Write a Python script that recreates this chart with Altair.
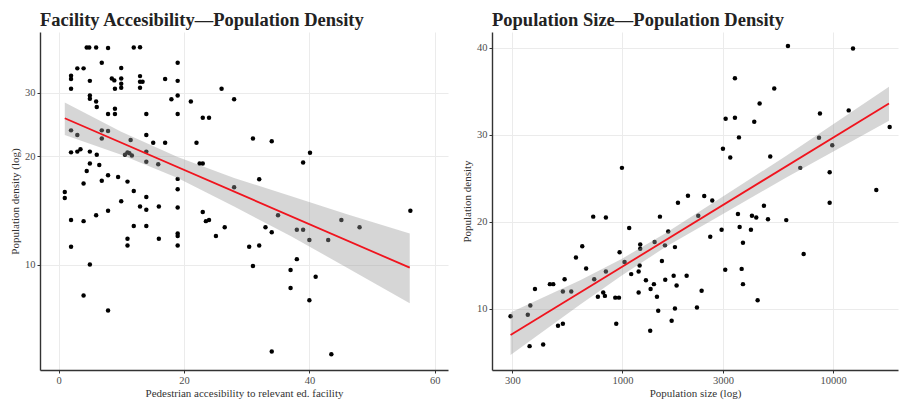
import altair as alt
import pandas as pd

FONT = "Liberation Serif"

# ---------------- Left panel: Facility accessibility vs population density ----------------
left_x = [4.5, 4.9, 6.0, 7.9, 12.0, 13.0, 6.9, 19.0, 3.0, 4.0,
          10.0, 2.0, 2.0, 5.0, 8.5, 8.9, 10.0, 13.0, 17.0, 19.0,
          10.0, 10.0, 9.0, 13.0, 13.4, 13.0, 2.0, 26.0, 5.0, 5.0,
          6.0, 6.1, 18.0, 19.0, 21.1, 28.0, 7.9, 9.0, 9.0, 14.0,
          19.0, 23.0, 24.0, 2.0, 3.0, 6.9, 7.9, 6.9, 11.5, 14.0,
          15.1, 17.0, 22.0, 2.0, 3.0, 3.5, 5.0, 6.1, 10.6, 11.0,
          11.3, 11.7, 14.0, 5.0, 6.5, 14.0, 15.9, 22.5, 23.0, 4.5,
          7.9, 9.5, 6.9, 11.0, 4.0, 19.0, 28.0, 1.0, 1.0, 12.0,
          19.0, 10.0, 14.0, 13.0, 14.0, 16.0, 19.0, 7.9, 6.0, 2.0,
          4.0, 23.0, 23.5, 24.0, 26.5, 25.1, 12.0, 14.0, 11.0, 11.0,
          16.0, 19.0, 19.0, 19.0, 2.0, 5.0, 4.0, 7.9, 30.4, 56.1,
          45.1, 48.0, 35.0, 33.0, 34.0, 38.0, 39.0, 40.0, 43.0, 32.0,
          31.0, 38.0, 37.0, 41.0, 37.0, 40.0, 34.0, 43.5, 31.0, 34.0,
          40.1, 39.0, 32.0]
left_y = [40.1, 40.1, 40.1, 40.0, 40.1, 40.2, 36.4, 36.4, 35.1, 35.1,
          35.2, 33.5, 32.8, 32.4, 32.9, 32.5, 32.9, 33.4, 32.8, 32.4,
          31.8, 31.0, 30.8, 32.2, 32.2, 31.0, 30.8, 30.8, 29.5, 28.9,
          28.4, 27.4, 28.8, 29.5, 28.4, 28.8, 26.2, 27.1, 26.2, 26.2,
          26.2, 25.6, 25.6, 23.6, 22.9, 23.6, 23.5, 22.4, 22.2, 22.9,
          21.8, 21.8, 21.8, 20.5, 20.6, 20.9, 20.6, 20.2, 20.2, 20.5,
          20.4, 20.1, 20.6, 19.1, 18.9, 19.3, 19.0, 19.1, 19.1, 18.2,
          17.7, 17.5, 17.1, 17.0, 16.8, 17.3, 16.4, 15.9, 15.3, 16.0,
          16.2, 15.0, 15.4, 14.5, 14.2, 14.5, 14.4, 14.1, 13.7, 13.3,
          13.2, 14.0, 13.2, 13.3, 12.7, 12.0, 12.8, 12.8, 11.8, 11.3,
          11.8, 12.2, 12.0, 11.3, 11.2, 10.0, 8.2, 7.45, 11.2, 14.1,
          13.3, 12.7, 13.7, 12.7, 12.3, 12.5, 12.5, 11.7, 11.7, 11.3,
          9.9, 10.35, 9.65, 9.25, 8.6, 7.96, 5.73, 5.63, 22.4, 22.0,
          20.45, 19.2, 17.25]

left_fit_x = [1.0, 56.0]
left_fit_y = [25.5, 9.8]
left_band_x = [1, 10, 19, 28, 37, 46, 56]
left_band_lo = [22.9, 20.2, 17.4, 14.5, 12.0, 9.8, 7.8]
left_band_hi = [28.2, 23.4, 19.9, 17.4, 15.5, 13.8, 12.2]

# ---------------- Right panel: Population size vs population density ----------------
right_x = [994, 2046, 1834, 6107, 12440, 3420, 5257, 4480, 11870, 3090,
           3420, 4225, 8667, 18580, 3574, 8577, 9915, 3000, 3250, 5032,
           6987, 9638, 16050, 2445, 2669, 9638, 726, 834, 1506, 1076,
           1649, 2290, 644, 601, 1421, 1214, 1214, 1591, 1775, 969,
           1023, 1539, 672, 834, 1206, 1193, 1100, 734, 531, 384,
           452, 469, 521, 571, 810, 825, 764, 924, 962, 1292,
           1410, 1360, 1596, 1750, 1807, 2017, 1193, 1458, 1478, 1775,
           2258, 1712, 1354, 934, 365, 355, 294, 494, 521, 362,
           420, 4697, 3535, 4120, 4318, 4909, 5995, 2957, 3601, 4074,
           2611, 3734, 7252, 3076, 3681, 3734, 2376, 4384]
right_y = [26.2, 23.0, 22.2, 40.2, 39.9, 36.5, 35.3, 33.6, 32.8, 31.85,
           31.96, 31.5, 32.45, 30.9, 29.7, 29.66, 28.8, 28.4, 27.4, 27.5,
           26.2, 25.7, 23.65, 22.96, 22.46, 22.2, 20.6, 20.5, 20.6, 19.3,
           18.9, 20.7, 17.2, 15.9, 17.7, 17.4, 16.9, 17.3, 17.1, 16.5,
           15.4, 15.5, 14.65, 14.3, 15.0, 14.3, 14.0, 13.4, 13.4, 12.3,
           12.85, 12.85, 12.0, 12.0, 11.9, 11.5, 11.4, 11.3, 11.3, 13.3,
           12.85, 12.3, 13.35, 13.8, 12.7, 13.8, 11.9, 11.4, 9.8, 10.06,
           10.16, 8.65, 7.5, 8.3, 10.4, 9.34, 9.17, 8.07, 8.3, 5.73,
           5.92, 21.85, 20.9, 20.7, 20.5, 20.3, 20.2, 19.1, 19.4, 19.1,
           18.3, 17.6, 16.3, 14.5, 14.6, 12.85, 12.1, 11.0]

right_fit_x = [294, 18440]
right_fit_y = [7.0, 33.6]
right_band_x = [294, 630, 1000, 1600, 3000, 6000, 18440]
right_band_lo = [4.7, 10.5, 13.9, 17.1, 20.9, 25.1, 31.6]
right_band_hi = [9.6, 13.3, 15.8, 18.7, 22.9, 27.6, 35.5]

left_ticks_x = [0, 20, 40, 60]
left_ticks_y = [10, 20, 30]
right_ticks_x = [300, 1000, 3000, 10000]
right_ticks_y = [10, 20, 30, 40]

titles = {
    "left": "Facility Accesibility\u2014Population Density",
    "right": "Population Size\u2014Population Density",
}

# ---------------- build ----------------
df_lp = pd.DataFrame({"x": left_x, "y": left_y})
df_lf = pd.DataFrame({"x": left_fit_x, "y": left_fit_y})
df_lb = pd.DataFrame({"x": left_band_x, "lo": left_band_lo, "hi": left_band_hi})
df_rp = pd.DataFrame({"x": right_x, "y": right_y})
df_rf = pd.DataFrame({"x": right_fit_x, "y": right_fit_y})
df_rb = pd.DataFrame({"x": right_band_x, "lo": right_band_lo, "hi": right_band_hi})

POINT = dict(size=20, color="black", opacity=1, clip=True)
BAND = dict(color="#999999", opacity=0.4, clip=True)
LINE = dict(color="#f0141e", strokeWidth=1.8, clip=True)


def panel(dp, df, db, xscale, yscale, xaxis, yaxis, title):
    X = lambda: alt.X("x:Q", scale=xscale, axis=xaxis)
    pts = alt.Chart(dp).mark_circle(**POINT).encode(
        x=X(), y=alt.Y("y:Q", scale=yscale, axis=yaxis))
    band = alt.Chart(db).mark_area(**BAND).encode(
        x=X(), y=alt.Y("lo:Q", scale=yscale, axis=yaxis), y2="hi:Q")
    line = alt.Chart(df).mark_line(**LINE).encode(
        x=X(), y=alt.Y("y:Q", scale=yscale, axis=yaxis))
    return alt.layer(pts, band, line).properties(
        width=408, height=338,
        title=alt.TitleParams(title, anchor="start", frame="group", font=FONT,
                              fontSize=18.5, fontWeight="bold", color="#222222",
                              offset=3),
    )


left = panel(
    df_lp, df_lf, df_lb,
    alt.Scale(domain=[-2.95, 62.1], nice=False, zero=False),
    alt.Scale(type="log", domain=[5.09, 44.3], nice=False),
    alt.Axis(values=left_ticks_x, title="Pedestrian accesibility to relevant ed. facility",
             format="d", titlePadding=2),
    alt.Axis(values=left_ticks_y, title="Population density (log)", format="d"),
    titles["left"],
)

right = panel(
    df_rp, df_rf, df_rb,
    alt.Scale(type="log", domain=[240, 20350], nice=False),
    alt.Scale(domain=[2.99, 41.8], nice=False, zero=False),
    alt.Axis(values=right_ticks_x, title="Population size (log)", format="d", titlePadding=2),
    alt.Axis(values=right_ticks_y, title="Population density", format="d"),
    titles["right"],
).properties(width=406)

chart = alt.hconcat(left, right, spacing=13).properties(
    padding={"left": 9, "top": 10, "right": 1, "bottom": 2},
    background="white",
).configure_view(stroke=None).configure_axis(
    grid=True, gridColor="#ebebeb", gridWidth=1,
    domainColor="#333333", domainWidth=1.4,
    tickColor="#333333", tickSize=3, tickWidth=1,
    labelFont=FONT, labelFontSize=10.5, labelColor="#4d4d4d", labelPadding=2,
    titleFont=FONT, titleFontSize=11, titleFontWeight="normal", titleColor="#333333",
    titlePadding=4,
)

chart.save("out.html", embed_options={"renderer": "svg", "actions": False})
